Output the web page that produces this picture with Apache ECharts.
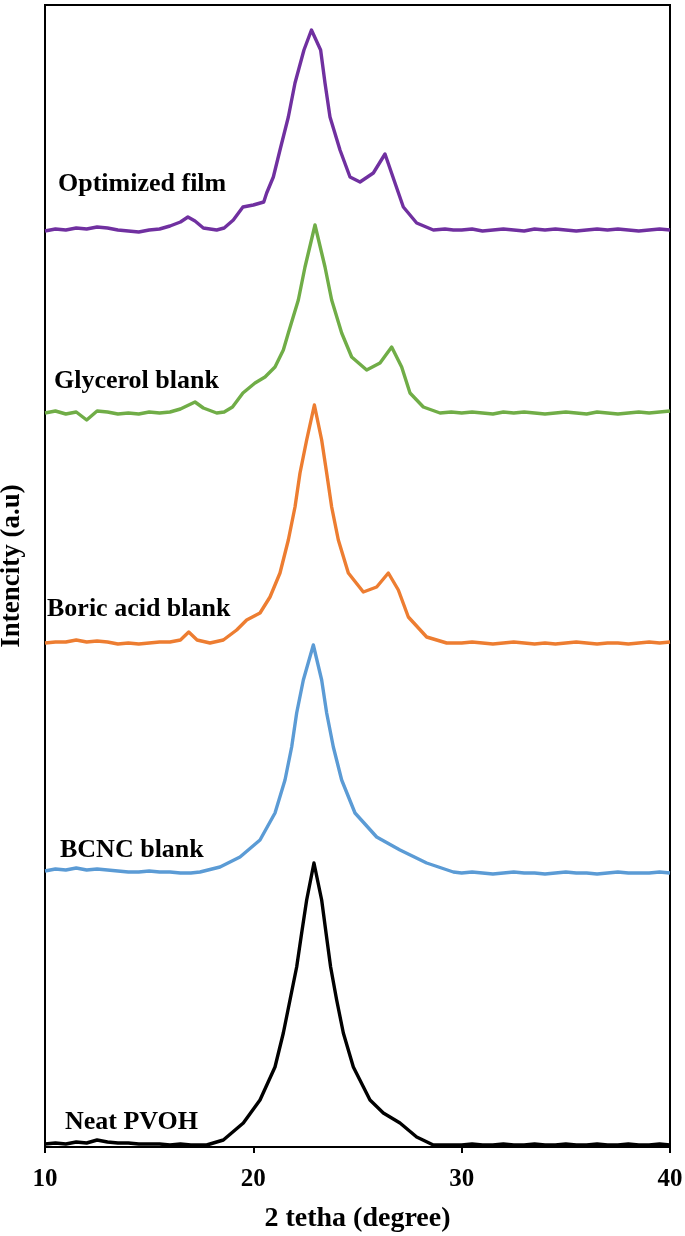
<!DOCTYPE html>
<html><head><meta charset="utf-8">
<script src="https://cdn.jsdelivr.net/npm/echarts@6/dist/echarts.min.js"></script>
<style>html,body{margin:0;padding:0;background:#fff}#c{width:685px;height:1236px}</style>
</head><body><div id="c"></div>
<script>
// x values (2θ, degree) and intensities (a.u., already stacked with offsets)
const tail = [30,30.5,31,31.5,32,32.5,33,33.5,34,34.5,35,35.5,36,36.5,37,37.5,38,38.5,39,39.5,40];
const head = [10,10.5,11,11.5,12,12.5,13,13.5,14,14.5,15,15.5,16,16.5];

const optX = head.concat([16.86,17.2,17.6,18.24,18.6,19.04,19.5,20.0,20.5,20.64,20.96,21.28,21.68,22.0,22.43,22.79,23.23,23.44,23.68,24.16,24.64,25.12,25.76,26.32,26.8,27.2,27.84,28.64,29.2,29.6]).concat(tail);
const optY = [916,918,917,919,918,920,919,917,916,915,917,918,921,925,
  930,926,919,917,919,927,940,942,945,954,970,997,1030,1064,1097,1117,1097,1064,1030,997,970,965,974,993,964,940,924,917,918,917,
  917,918,916,917,918,917,916,918,917,918,917,916,917,918,917,918,917,916,917,918,917];

const glyX = head.concat([17.2,17.6,18.24,18.6,19.0,19.5,20.08,20.56,21.04,21.44,21.68,22.16,22.48,22.96,23.44,23.76,24.24,24.72,25.44,26.08,26.64,27.12,27.52,28.16,28.96,29.5]).concat(tail);
const glyY = [734,736,733,735,727,736,735,733,734,733,735,734,735,738,
  745,739,734,735,740,754,764,770,780,797,814,847,880,922,880,847,814,790,777,784,800,780,754,740,734,735,
  734,735,734,733,735,734,735,734,733,734,735,734,733,735,734,733,734,735,734,735,736];

const borX = head.concat([16.9,17.3,17.92,18.56,19.2,19.68,20.32,20.8,21.28,21.68,22.0,22.24,22.56,22.93,23.28,23.52,23.76,24.08,24.56,25.28,25.92,26.48,26.96,27.44,28.32,29.28]).concat(tail);
const borY = [504,505,505,507,505,506,505,503,504,503,504,505,505,507,
  515,507,504,507,517,527,534,550,574,607,640,674,707,742,707,674,640,607,574,555,560,574,557,530,510,504,
  504,505,504,503,504,505,504,503,504,503,504,505,504,503,504,504,503,504,505,504,505];

const bcnX = [10,10.5,11,11.5,12,12.5,13,13.5,14,14.5,15,15.5,16,16.5,17,17.44,18.4,19.36,20.32,21.04,21.52,21.84,22.08,22.4,22.88,23.28,23.52,23.84,24.24,24.88,25.92,27.04,28.32,29.6].concat(tail);
const bcnY = [276,278,277,279,277,278,277,276,275,275,276,275,275,274,274,
  275,280,290,307,334,367,400,434,467,502,467,434,400,367,334,310,297,284,275,
  274,275,274,273,274,275,274,274,273,274,275,274,274,273,274,275,274,274,274,275,274];

const neatX = [10,10.5,11,11.5,12,12.5,13,13.5,14,14.5,15,15.5,16,16.5,17,17.5,17.76,18.56,19.52,20.32,21.04,21.44,21.76,22.08,22.32,22.56,22.91,23.28,23.49,23.71,24.0,24.32,24.8,25.6,26.24,27.04,27.84,28.64,29.3].concat(tail);
const neatY = [3,4,3,5,4,7,5,4,4,3,3,3,2,3,2,2,
  2,7,24,47,80,114,147,180,214,247,284,247,214,180,147,114,80,47,34,24,10,2,2,
  2,3,2,2,3,2,2,3,2,2,3,2,2,3,2,2,3,2,2,3,2];

const names = ['Optimized film','Glycerol blank','Boric acid blank','BCNC blank','Neat PVOH'];
const colors = ['#7030A0','#70AD47','#ED7D31','#5B9BD5','#000000'];
const xs = [optX, glyX, borX, bcnX, neatX];
const ys = [optY, glyY, borY, bcnY, neatY];
const xTicks = [10,20,30,40];

const font = 'Liberation Serif';
const chart = echarts.init(document.getElementById('c'));
const series = names.map((n,i)=>({
  name:n, type:'line', showSymbol:false, symbol:'none', smooth:false,
  lineStyle:{color:colors[i], width:3.4, join:'round'},
  data: xs[i].map((x,j)=>[x, ys[i][j]]),
  z: 5-i
}));
const lbl = (t,x,y)=>({type:'text', x:x, y:y, style:{text:t, font:'bold 26px "Liberation Serif"', fill:'#000', verticalAlign:'middle', align:'left'}});
chart.setOption({
  animation:false,
  backgroundColor:'#fff',
  grid:{left:45, right:15, top:5, bottom:89, show:true, borderColor:'#000', borderWidth:2, backgroundColor:'transparent', containLabel:false, outerBoundsMode:'none'},
  xAxis:{type:'value', min:10, max:40, interval:10,
    axisLine:{show:true, lineStyle:{color:'#000', width:2}},
    axisTick:{show:true, inside:false, length:6, lineStyle:{color:'#000', width:2}},
    splitLine:{show:false},
    axisLabel:{color:'#000', fontFamily:font, fontWeight:'bold', fontSize:25, margin:20,
      formatter:v=> xTicks.includes(v)? String(v):''},
    name:'2 tetha (degree)', nameLocation:'middle', nameGap:58,
    nameTextStyle:{color:'#000', fontFamily:font, fontWeight:'bold', fontSize:28}
  },
  yAxis:{type:'value', min:0, max:1142,
    axisLine:{show:true, lineStyle:{color:'#000', width:2}},
    axisTick:{show:false}, axisLabel:{show:false}, splitLine:{show:false}
  },
  series: series,
  graphic:[
    lbl(names[0],58,184), lbl(names[1],54,381), lbl(names[2],47,609), lbl(names[3],60,850), lbl(names[4],65,1122),
    {type:'text', x:12, y:566, rotation:Math.PI/2,
      style:{text:'Intencity (a.u)', font:'bold 27px "Liberation Serif"', fill:'#000', align:'center', verticalAlign:'middle'}}
  ]
});
</script></body></html>
